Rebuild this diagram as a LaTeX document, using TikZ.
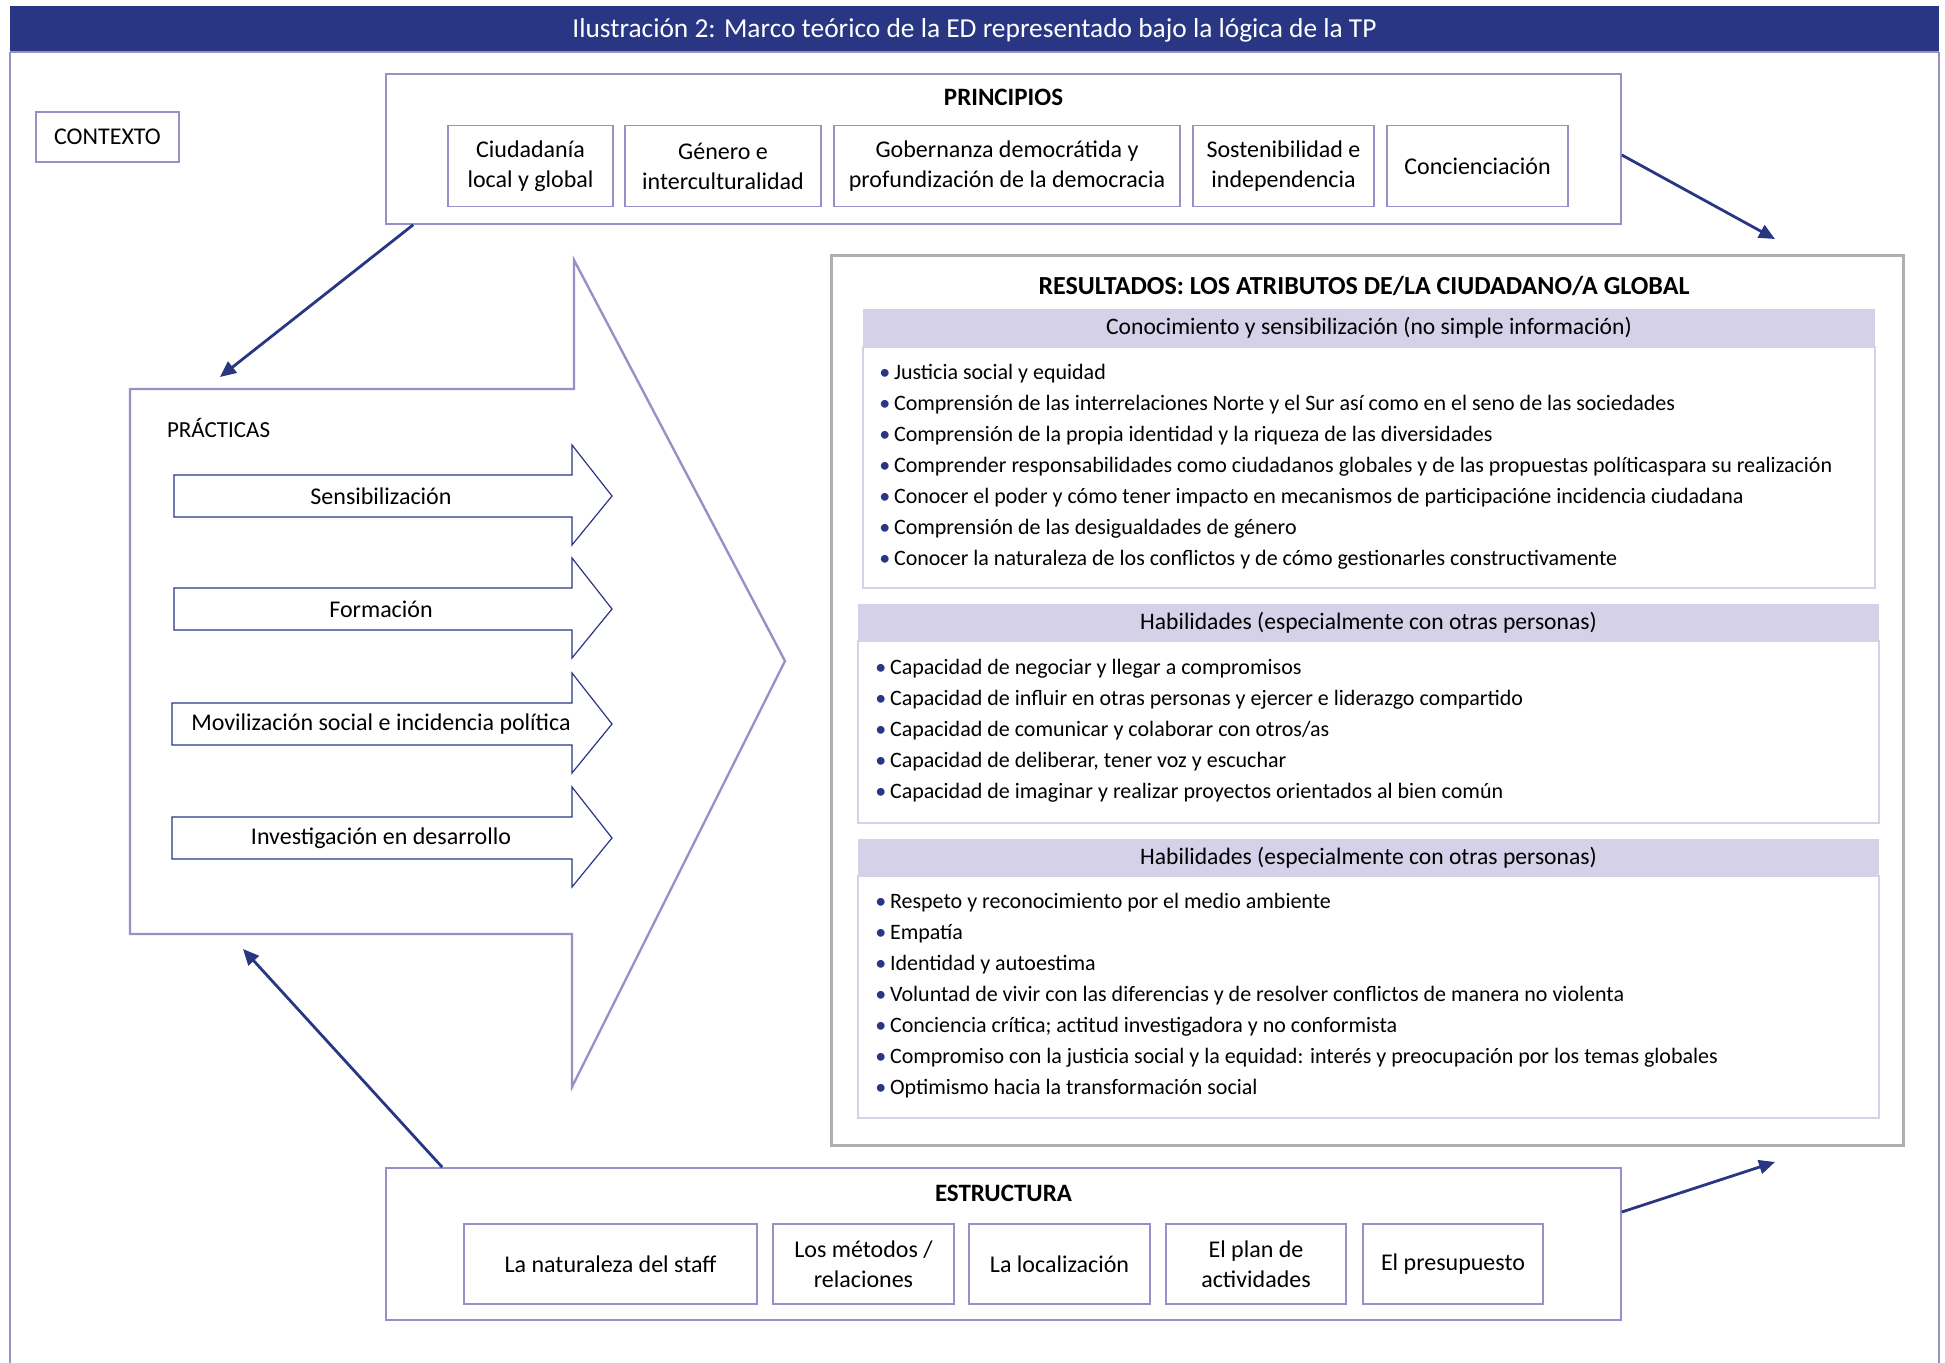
\documentclass[tikz,border=0pt]{standalone}
\usepackage{fontspec}
\setmainfont{Carlito}
\usetikzlibrary{arrows.meta,positioning,calc}

\definecolor{azul}{RGB}{40,54,132}
\definecolor{lila}{RGB}{150,146,200}
\definecolor{lilaclaro}{RGB}{212,209,232}
\definecolor{gris}{RGB}{175,175,175}

\begin{document}
\begin{tikzpicture}[x=0.5pt,y=-0.5pt,
    caja/.style={draw=lila, line width=0.8pt, align=center, inner sep=2pt, font=\fontsize{12}{15}\selectfont},
    titulo/.style={font=\fontsize{12.5}{14}\selectfont\bfseries},
    cabecera/.style={fill=lilaclaro, minimum height=18.75pt, inner sep=0pt, font=\fontsize{11.8}{13}\selectfont},
    cuerpo/.style={draw=lilaclaro, line width=0.8pt},
    punto/.style={anchor=west, inner sep=0pt, font=\fontsize{11}{13}\selectfont},
    flecha/.style={draw=azul, line width=1.4pt, -{Triangle[length=8pt,width=7pt]}},
    practica/.style={draw=azul, line width=0.6pt}]
  \useasboundingbox (0,0) rectangle (1945,1363);

  % cabecera y marco
  \fill[azul] (10,6) rectangle (1939,52);
  \node[text=white, font=\fontsize{13.7}{15}\selectfont] (ilustracion) at (974.5,30)
    {Ilustración 2: Marco teórico de la ED representado bajo la lógica de la TP};
  \draw[lila, line width=1pt] (10,52) -- (1939,52) (10,52) -- (10,1363) (1939,52) -- (1939,1363);

  \node[caja, minimum width=71.5pt, minimum height=25pt] (contexto) at (107.5,137) {CONTEXTO};

  % principios
  \node[caja, minimum width=617.5pt, minimum height=75pt] (principios) at (1003.5,149) {};
  \node[titulo] (tprincipios) at (1003.5,97) {PRINCIPIOS};
  \node[caja, minimum width=82.5pt, minimum height=40.5pt] (ciudadania) at (530.5,166) {Ciudadanía\\local y global};
  \node[caja, minimum width=98pt, minimum height=40.5pt] (genero) at (723,166) {Género e\\interculturalidad};
  \node[caja, minimum width=173pt, minimum height=40.5pt] (gobernanza) at (1007,166) {Gobernanza democrátida y\\profundización de la democracia};
  \node[caja, minimum width=90.5pt, minimum height=40.5pt] (sostenibilidad) at (1283.5,166) {Sostenibilidad e\\independencia};
  \node[caja, minimum width=90.5pt, minimum height=40.5pt] (concienciacion) at (1477.5,166) {Concienciación};

  % practicas
  \draw[lila, line width=1.2pt] (130,389) -- (574,389) -- (574,260) -- (785,661)
    -- (572,1087) -- (572,934) -- (130,934) -- cycle;
  \node[anchor=west, font=\fontsize{11.5}{14}\selectfont] (tpracticas) at (160,428) {PRÁCTICAS};
  \foreach \y/\xi/\t [count=\i] in {496/174/Sensibilización, 609/174/Formación,
      724/172/Movilización social e incidencia política, 838/172/Investigación en desarrollo} {
    \draw[practica] (\xi,\y-21) -- (572,\y-21) -- (572,\y-51) -- (612,\y)
      -- (572,\y+49) -- (572,\y+21) -- (\xi,\y+21) -- cycle;
    \node[font=\fontsize{12}{14}\selectfont] (practica\i) at (381,\y) {\t};
  }

  % resultados
  \node[draw=gris, line width=1.5pt, minimum width=536pt, minimum height=444.5pt] (resultados) at (1367,700.5) {};
  \node[titulo, font=\fontsize{13}{15}\selectfont\bfseries] (tresultados) at (1364,286) {RESULTADOS: LOS ATRIBUTOS DE/LA CIUDADANO/A GLOBAL};

  \node[cuerpo, minimum width=506pt, minimum height=120.5pt] (cuerpo1) at (1369,467.5) {};
  \node[cabecera, minimum width=506pt] (cab1) at (1369,328) {Conocimiento y sensibilización (no simple información)};
  \foreach \t [count=\i] in {Justicia social y equidad,
      Comprensión de las interrelaciones Norte y el Sur así como en el seno de las sociedades,
      Comprensión de la propia identidad y la riqueza de las diversidades,
      Comprender responsabilidades como ciudadanos globales y de las propuestas políticaspara su realización,
      Conocer el poder y cómo tener impacto en mecanismos de participacióne incidencia ciudadana,
      Comprensión de las desigualdades de género,
      Conocer la naturaleza de los conflictos y de cómo gestionarles constructivamente}
    \node[punto] (conoc\i) at (879,343+31*\i) {{\color{azul}\textbullet}\,\t};

  \node[cuerpo, minimum width=510.5pt, minimum height=91pt] (cuerpo2) at (1368.5,732) {};
  \node[cabecera, minimum width=510.5pt] (cab2) at (1368.5,622.5) {Habilidades (especialmente con otras personas)};
  \foreach \t [count=\i] in {Capacidad de negociar y llegar a compromisos,
      Capacidad de influir en otras personas y ejercer e liderazgo compartido,
      Capacidad de comunicar y colaborar con otros/as,
      {Capacidad de deliberar, tener voz y escuchar},
      Capacidad de imaginar y realizar proyectos orientados al bien común}
    \node[punto] (habil\i) at (875,638+31*\i) {{\color{azul}\textbullet}\,\t};

  \node[cuerpo, minimum width=510.5pt, minimum height=121pt] (cuerpo3) at (1368.5,997) {};
  \node[cabecera, minimum width=510.5pt] (cab3) at (1368.5,857.5) {Habilidades (especialmente con otras personas)};
  \foreach \t [count=\i] in {Respeto y reconocimiento por el medio ambiente,
      Empatía,
      Identidad y autoestima,
      Voluntad de vivir con las diferencias y de resolver conflictos de manera no violenta,
      Conciencia crítica; actitud investigadora y no conformista,
      Compromiso con la justicia social y la equidad: interés y preocupación por los temas globales,
      Optimismo hacia la transformación social}
    \node[punto] (valor\i) at (875,872+31*\i) {{\color{azul}\textbullet}\,\t};

  % estructura
  \node[caja, minimum width=617.5pt, minimum height=76pt] (estructura) at (1003.5,1244) {};
  \node[titulo] (testructura) at (1003.5,1193) {ESTRUCTURA};
  \node[caja, minimum width=146.5pt, minimum height=40pt] (staff) at (610.5,1264) {La naturaleza del staff};
  \node[caja, minimum width=90.5pt, minimum height=40pt] (metodos) at (863.5,1264) {Los métodos /\\relaciones};
  \node[caja, minimum width=90.5pt, minimum height=40pt] (localizacion) at (1059.5,1264) {La localización};
  \node[caja, minimum width=90pt, minimum height=40pt] (plan) at (1256,1264) {El plan de\\actividades};
  \node[caja, minimum width=90pt, minimum height=40pt] (presupuesto) at (1453,1264) {El presupuesto};

  % flechas
  \coordinate (haciapracticas) at (220,377);
  \coordinate (haciaresultados) at (1775,239);
  \coordinate (desdeabajo) at (243,949);
  \coordinate (haciaresultadosb) at (1775,1162);
  \draw[flecha] ($(principios.south west)+(28,0)$) -- (haciapracticas);
  \draw[flecha] ($(principios.east)+(0,6)$) -- (haciaresultados);
  \draw[flecha] ($(estructura.north west)+(57,0)$) -- (desdeabajo);
  \draw[flecha] ($(estructura.east)+(0,-32)$) -- (haciaresultadosb);
\end{tikzpicture}
\end{document}
